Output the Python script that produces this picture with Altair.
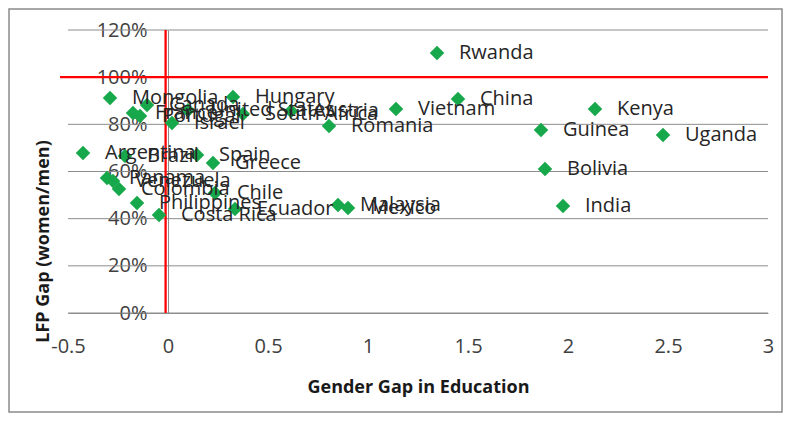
import altair as alt
import pandas as pd

countries = ["Rwanda", "China", "Vietnam", "Kenya", "Guinea", "Uganda", "Bolivia", "India",
             "Romania", "Malaysia", "Mexico", "South Africa", "Austria", "Hungary",
             "United States", "Canada", "Mongolia", "France", "Portugal", "Israel",
             "Argentina", "Brazil", "Spain", "Greece", "Panama", "Venezuela", "Colombia",
             "Chile", "Philippines", "Costa Rica", "Ecuador"]
edu_gap = [1.345, 1.45, 1.14, 2.135, 1.865, 2.475, 1.885, 1.975,
           0.805, 0.85, 0.90, 0.375, 0.615, 0.325,
           0.10, -0.105, -0.29, -0.175, -0.14, 0.02,
           -0.425, -0.215, 0.145, 0.225, -0.305, -0.275, -0.245,
           0.235, -0.155, -0.045, 0.335]
lfp_gap = [1.102, 0.907, 0.865, 0.865, 0.776, 0.755, 0.611, 0.454,
           0.793, 0.458, 0.445, 0.844, 0.857, 0.916,
           0.86, 0.882, 0.912, 0.848, 0.835, 0.806,
           0.678, 0.666, 0.670, 0.636, 0.572, 0.560, 0.526,
           0.509, 0.466, 0.416, 0.441]

y_ticks = [0, 0.2, 0.4, 0.6, 0.8, 1.0, 1.2]
x_ticks = [-0.5, 0, 0.5, 1, 1.5, 2, 2.5, 3]
vline_x = [-0.012]
vline_y = [0.0, 1.2]
hline_y = [1.0]
hline_x = [-0.54, 3.0]

df = pd.DataFrame({"country": countries, "edu": edu_gap, "lfp": lfp_gap})

FONT = "Open Sans"
GRID = "#8c8c8c"

xscale = alt.Scale(domain=[-0.5, 3], nice=False, zero=False)
yscale = alt.Scale(domain=[0, 1.2], nice=False, zero=False)

xaxis = alt.Axis(values=x_ticks, labelExpr="'' + datum.value", title="Gender Gap in Education",
                 titleFont=FONT, titleFontSize=18, titleFontWeight="bold", titleColor="#1a1a1a",
                 labelFont=FONT, labelFontSize=20, labelColor="#404040", labelPadding=23,
                 ticks=False, tickSize=0, domain=True, domainColor=GRID, grid=False,
                 titlePadding=22, labelOverlap=False, labelFlush=False)
yaxis = alt.Axis(values=y_ticks, format=".0%", title="LFP Gap (women/men)",
                 titleFont=FONT, titleFontSize=18, titleFontWeight="bold", titleColor="#1a1a1a",
                 titleX=-125, titleY=211, titleAngle=270, titleBaseline="middle", titleAlign="center",
                 labelFont=FONT, labelFontSize=20, labelColor="#404040", labelPadding=21,
                 ticks=False, tickSize=0, domain=True, domainColor=GRID, grid=False,
                 offset=-100, labelOverlap=False)

frame = alt.Chart(pd.DataFrame({"k": [0]})).mark_rect(
    fillOpacity=0, stroke="#8a8a8a", strokeWidth=1.5, clip=False
).encode(x=alt.value(-59), x2=alt.value(714), y=alt.value(-21), y2=alt.value(382))

grid = alt.Chart(pd.DataFrame({"v": y_ticks})).mark_rule(color=GRID, strokeWidth=1).encode(
    y=alt.Y("v:Q", scale=yscale, axis=yaxis), x=alt.value(0), x2=alt.value(700))

vline = alt.Chart(pd.DataFrame({"x": vline_x * 2, "y": vline_y})).mark_line(
    color="#ff0000", strokeWidth=2.3, clip=False
).encode(x=alt.X("x:Q", scale=xscale, axis=xaxis), y=alt.Y("y:Q", scale=yscale, axis=yaxis))

hline = alt.Chart(pd.DataFrame({"x": hline_x, "y": hline_y * 2})).mark_line(
    color="#ff0000", strokeWidth=2.3, clip=False
).encode(x=alt.X("x:Q", scale=xscale, axis=xaxis), y=alt.Y("y:Q", scale=yscale, axis=yaxis))

points = alt.Chart(df).mark_point(shape="diamond", filled=True, size=210, color="#17a84b",
                                  opacity=1).encode(
    x=alt.X("edu:Q", scale=xscale, axis=xaxis),
    y=alt.Y("lfp:Q", scale=yscale, axis=yaxis))

labels = alt.Chart(df).mark_text(align="left", baseline="middle", dx=22, font=FONT,
                                 fontSize=20, color="#262626").encode(
    x=alt.X("edu:Q", scale=xscale, axis=xaxis),
    y=alt.Y("lfp:Q", scale=yscale, axis=yaxis),
    text="country:N")

chart = alt.layer(frame, grid, vline, hline, points, labels).properties(
    width=700, height=283,
    autosize=alt.AutoSizeParams(type="none"),
    padding={"left": 60, "top": 22, "right": 15, "bottom": 100},
).configure_view(stroke=None)

chart.save("out.html", embed_options={"renderer": "svg", "actions": False})
